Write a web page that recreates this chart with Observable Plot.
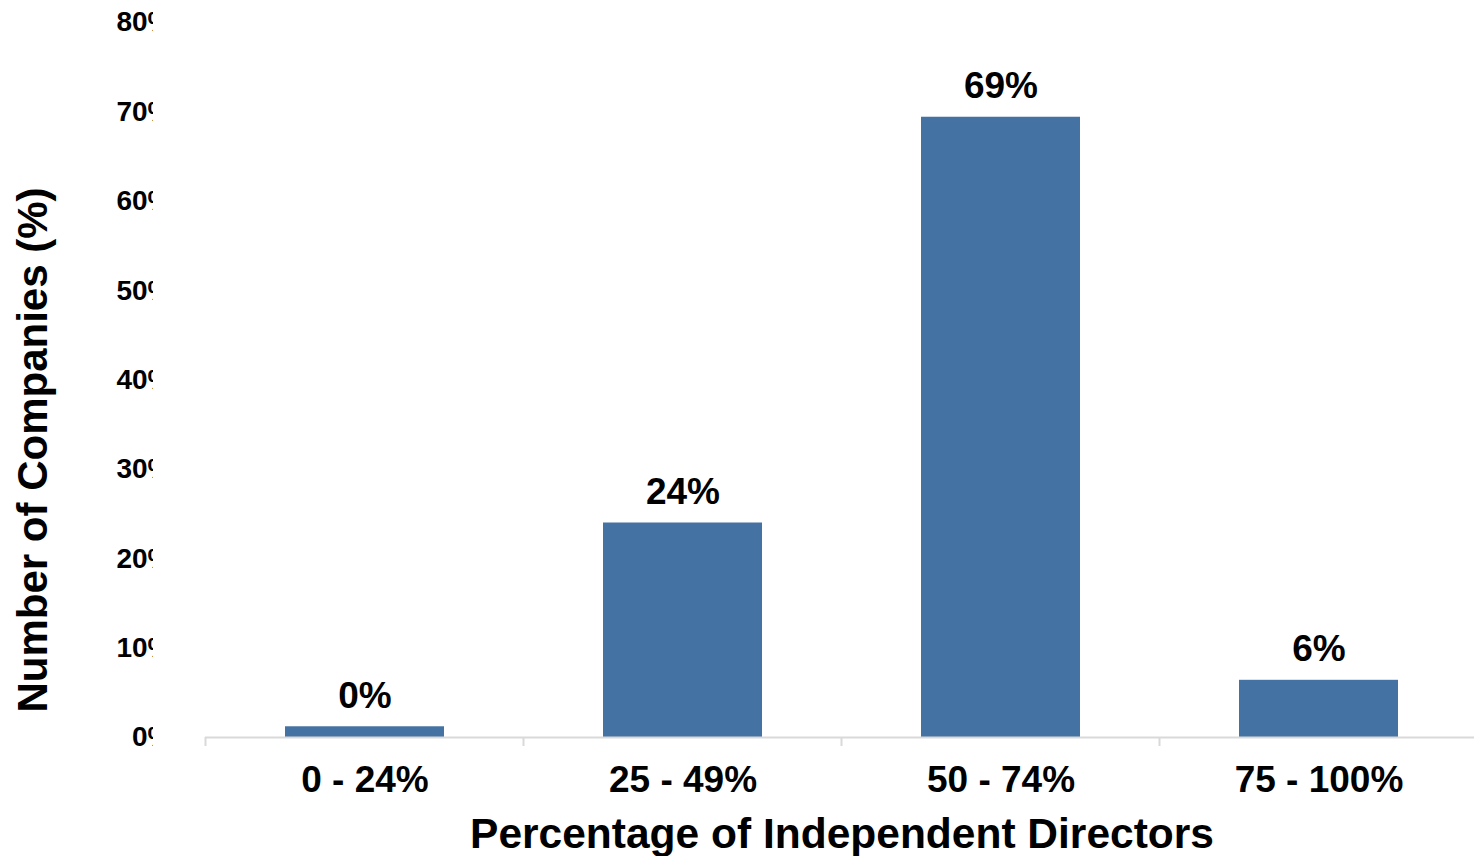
<!DOCTYPE html>
<html>
<head>
<meta charset="utf-8">
<script src="https://cdn.jsdelivr.net/npm/d3@7"></script>
<script src="https://cdn.jsdelivr.net/npm/@observablehq/plot@0.6"></script>
<style>
  html, body { margin: 0; padding: 0; background: #fff; }
  #chart { width: 1474px; height: 856px; overflow: hidden; }
</style>
</head>
<body>
<div id="chart"></div>
<script>
const categories = ["0 - 24%", "25 - 49%", "50 - 74%", "75 - 100%"];
const values = [1.2, 24, 69.4, 6.4];
const valueLabels = ["0%", "24%", "69%", "6%"];
const yTicks = [0, 10, 20, 30, 40, 50, 60, 70, 80];
const xTitle = "Percentage of Independent Directors";
const yTitle = "Number of Companies (%)";

const data = categories.map((c, i) => ({cat: c, value: values[i], label: valueLabels[i]}));
const font = "'Liberation Sans', Arial, Helvetica, sans-serif";

const chart = Plot.plot({
  width: 1474,
  height: 856,
  marginLeft: 205,
  marginRight: -4,
  marginTop: 22,
  marginBottom: 119,
  style: {fontFamily: font, color: "#000", background: "#fff", overflow: "hidden"},
  x: {domain: categories, paddingInner: 0.5, paddingOuter: 0.25},
  y: {domain: [0, 80]},
  marks: [
    Plot.barY(data, {x: "cat", y: "value", fill: "#4472a2"}),
    Plot.ruleY([0], {stroke: "#d9d9d9", strokeWidth: 2}),
    Plot.text(data, {x: "cat", y: "value", text: "label", lineAnchor: "bottom", dy: -19,
      fontSize: 37, fontWeight: "bold", fill: "#000"}),
    Plot.axisX({tickSize: 0, tickPadding: 28, fontSize: 37, fontWeight: "bold", label: null}),
    Plot.axisY({ticks: yTicks, tickSize: 0, tickPadding: 33, tickFormat: d => d + "%",
      fontSize: 28, fontWeight: "bold", label: null}),
    Plot.text([xTitle], {frameAnchor: "bottom", dy: 97, lineAnchor: "middle", textAnchor: "middle",
      fontSize: 42.5, fontWeight: "bold", fill: "#000"}),
    Plot.text([yTitle], {frameAnchor: "left", dx: -172, dy: 70, rotate: -90, lineAnchor: "middle",
      textAnchor: "middle", fontSize: 42, fontWeight: "bold", fill: "#000"})
  ]
});

document.getElementById("chart").appendChild(chart);

// Post-process: band-boundary tick marks and clipping of y tick labels
const svg = d3.select(chart);
const xs = chart.scale("x");
const step = xs.step;
const y0 = chart.scale("y").apply(0);
const boundaries = categories.map(c => xs.apply(c) + xs.bandwidth / 2 - step / 2);
svg.append("g").selectAll("line").data(boundaries).join("line")
  .attr("x1", d => d).attr("x2", d => d)
  .attr("y1", y0).attr("y2", y0 + 9)
  .attr("stroke", "#d9d9d9").attr("stroke-width", 2);

const clipId = "yclip";
svg.append("defs").append("clipPath").attr("id", clipId)
  .append("rect").attr("x", 0).attr("y", 0).attr("width", 153).attr("height", 856);
const yLabels = chart.querySelector("g[aria-label='y-axis tick label']");
if (yLabels) {
  const wrap = document.createElementNS("http://www.w3.org/2000/svg", "g");
  wrap.setAttribute("clip-path", `url(#${clipId})`);
  yLabels.parentNode.insertBefore(wrap, yLabels);
  wrap.appendChild(yLabels);
}
</script>
</body>
</html>
